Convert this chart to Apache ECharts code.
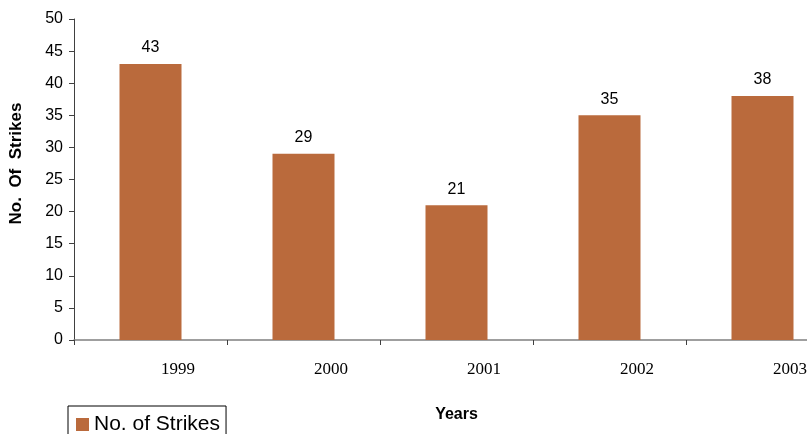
<!DOCTYPE html>
<html>
<head>
<meta charset="utf-8">
<script src="https://cdn.jsdelivr.net/npm/echarts@6/dist/echarts.min.js"></script>
<style>
  html, body { margin: 0; padding: 0; background: #fff; }
  #chart { width: 807px; height: 434px; }
</style>
</head>
<body>
<div id="chart"></div>
<script>
// Strike counts per year
const years = ['1999', '2000', '2001', '2002', '2003'];
const strikes = [43, 29, 21, 35, 38];
const yTicks = { min: 0, max: 50, interval: 5 };
const seriesName = 'No. of Strikes';

const chart = echarts.init(document.getElementById('chart'), null, { renderer: 'canvas' });

chart.setOption({
  animation: false,
  backgroundColor: '#ffffff',
  // plot area runs past the right edge of the canvas
  grid: { left: 74, top: 19, height: 321, width: 765, containLabel: false, outerBoundsMode: 'none' },
  legend: {
    data: [seriesName],
    left: 68,
    top: 406,
    padding: [8, 6, 8, 8],
    borderColor: '#000',
    borderWidth: 1,
    itemWidth: 13,
    itemHeight: 13,
    itemGap: 6,
    icon: 'rect',
    textStyle: { fontFamily: 'Liberation Sans, Arial, sans-serif', fontSize: 21, color: '#000' }
  },
  xAxis: {
    type: 'category',
    data: years,
    name: 'Years',
    nameLocation: 'middle',
    nameGap: 67,
    nameTextStyle: { fontFamily: 'Liberation Sans, Arial, sans-serif', fontWeight: 'bold', fontSize: 16, color: '#000' },
    axisLine: { lineStyle: { color: '#808080', width: 1.5 } },
    axisTick: { show: true, inside: false, length: 5, alignWithLabel: false, lineStyle: { color: '#404040' } },
    axisLabel: {
      fontFamily: 'Liberation Serif, Times New Roman, serif',
      fontSize: 17,
      color: '#000',
      margin: 21,
      padding: [0, 0, 0, 55]
    }
  },
  yAxis: {
    type: 'value',
    min: yTicks.min,
    max: yTicks.max,
    interval: yTicks.interval,
    name: 'No.  Of  Strikes',
    nameLocation: 'middle',
    nameGap: 49,
    nameTextStyle: {
      fontFamily: 'Liberation Sans, Arial, sans-serif',
      fontWeight: 'bold',
      fontSize: 17,
      color: '#000',
      padding: [0, 0, 0, 32]
    },
    splitLine: { show: false },
    axisLine: { show: true, lineStyle: { color: '#404040', width: 1 } },
    axisTick: { show: true, inside: false, length: 5, lineStyle: { color: '#404040' } },
    axisLabel: {
      fontFamily: 'Liberation Sans, Arial, sans-serif',
      fontSize: 16,
      color: '#000',
      margin: 11
    }
  },
  series: [{
    name: seriesName,
    type: 'bar',
    data: strikes,
    barWidth: 62,
    itemStyle: { color: '#BA6A3C' },
    label: {
      show: true,
      position: 'top',
      distance: 8,
      fontFamily: 'Liberation Sans, Arial, sans-serif',
      fontSize: 16,
      color: '#000'
    }
  }]
});
</script>
</body>
</html>
